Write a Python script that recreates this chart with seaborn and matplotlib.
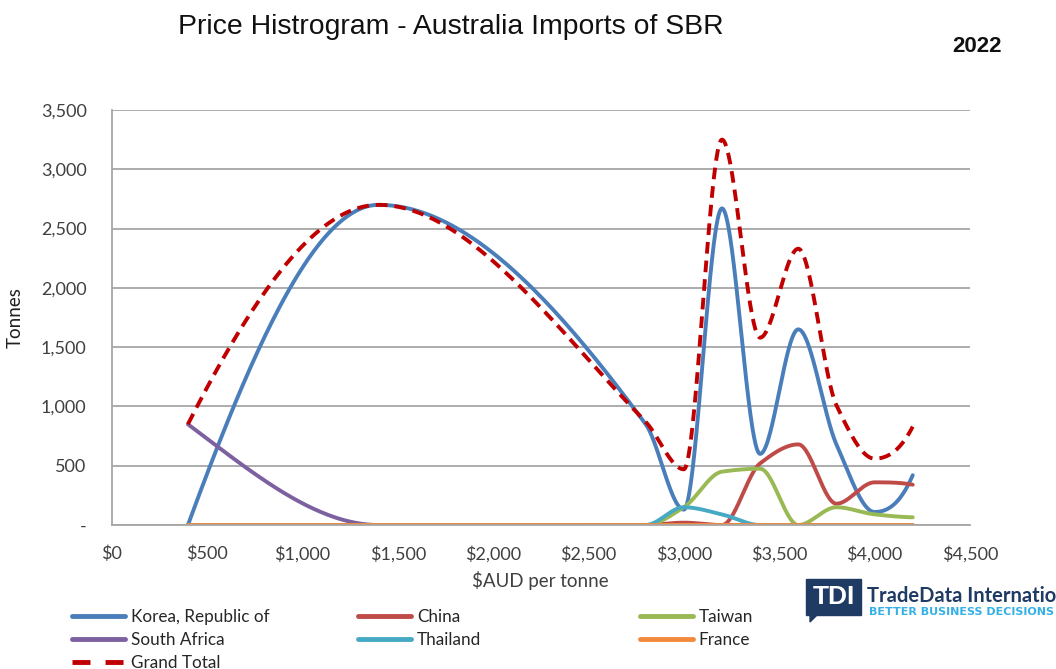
import numpy as np
import pandas as pd
import matplotlib
matplotlib.use('Agg')
import matplotlib.pyplot as plt
from matplotlib.lines import Line2D
from matplotlib.patches import Rectangle, Polygon
from matplotlib.ticker import FuncFormatter, MultipleLocator
import seaborn as sns

# price bins ($AUD per tonne) and tonnes per country
price = [400, 1400, 2800, 3000, 3200, 3400, 3600, 3800, 4000, 4200]
korea = [0, 2700, 850, 130, 2670, 600, 1650, 680, 110, 420]
china = [0, 0, 0, 20, 0, 520, 680, 180, 360, 340]
taiwan = [0, 0, 0, 150, 450, 475, 0, 150, 90, 65]
south_africa = [850, 0, 0, 0, 0, 0, 0, 0, 0, 0]
thailand = [0, 0, 0, 150, 90, 0, 0, 0, 0, 0]
france = [0, 0, 0, 0, 0, 0, 0, 0, 0, 0]
grand_total = [850, 2700, 870, 470, 3250, 1580, 2330, 1010, 560, 830]

series = {
    'Korea, Republic of': korea,
    'China': china,
    'Taiwan': taiwan,
    'South Africa': south_africa,
    'Thailand': thailand,
    'France': france,
    'Grand Total': grand_total,
}
colors = {
    'Korea, Republic of': '#4A7EBB',
    'China': '#BE4B48',
    'Taiwan': '#98B954',
    'South Africa': '#7D60A0',
    'Thailand': '#46AAC5',
    'France': '#F38A3B',
    'Grand Total': '#C00000',
}


def smooth(x, y, n=80):
    # monotone cubic (pchip) so the line looks like Excel's smoothed series
    x = np.asarray(x, float)
    y = np.asarray(y, float)
    h = np.diff(x)
    d = np.diff(y) / h
    m = np.zeros_like(y)
    for k in range(1, len(x) - 1):
        if d[k - 1] * d[k] > 0:
            w1 = 2 * h[k] + h[k - 1]
            w2 = h[k] + 2 * h[k - 1]
            m[k] = (w1 + w2) / (w1 / d[k - 1] + w2 / d[k])

    def end_slope(h0, h1, d0, d1):
        s = ((2 * h0 + h1) * d0 - h0 * d1) / (h0 + h1)
        if np.sign(s) != np.sign(d0):
            return 0.0
        if np.sign(d0) != np.sign(d1) and abs(s) > abs(3 * d0):
            return 3 * d0
        return s

    m[0] = end_slope(h[0], h[1], d[0], d[1])
    m[-1] = end_slope(h[-1], h[-2], d[-1], d[-2])
    xs, ys = [], []
    for k in range(len(h)):
        t = np.linspace(0, 1, n)
        h00 = 2 * t**3 - 3 * t**2 + 1
        h10 = t**3 - 2 * t**2 + t
        h01 = -2 * t**3 + 3 * t**2
        h11 = t**3 - t**2
        xs.append(x[k] + t * h[k])
        ys.append(h00 * y[k] + h10 * h[k] * m[k] + h01 * y[k + 1] + h11 * h[k] * m[k + 1])
    return np.concatenate(xs), np.concatenate(ys)


rows = []
for name, vals in series.items():
    xs, ys = smooth(price, vals)
    rows.append(pd.DataFrame({'price': xs, 'tonnes': ys, 'series': name}))
df = pd.concat(rows, ignore_index=True)

sns.set_theme(style='white')
plt.rcParams['font.family'] = ['Lato', 'DejaVu Sans']

fig = plt.figure(figsize=(10.56, 6.69), dpi=100)
ax = fig.add_axes([0.1057, 0.2152, 0.8128, 0.6204])

dashes = {name: '' for name in series}
dashes['Grand Total'] = (3, 1.8)
sns.lineplot(data=df, x='price', y='tonnes', hue='series', style='series',
             hue_order=list(series), style_order=list(series),
             palette=colors, dashes=dashes, sort=False, estimator=None,
             linewidth=2.8, legend=False, ax=ax)

ax.set_xlim(0, 4500)
ax.set_ylim(0, 3500)
ax.xaxis.set_major_locator(MultipleLocator(500))
ax.yaxis.set_major_locator(MultipleLocator(500))
ax.xaxis.set_major_formatter(FuncFormatter(lambda v, p: f'${v:,.0f}'))
ax.yaxis.set_major_formatter(FuncFormatter(lambda v, p: '-' if v == 0 else f'{v:,.0f}'))
ax.grid(axis='y', color='#A6A6A6', linewidth=1.3)
ax.grid(axis='x', visible=False)
ax.set_axisbelow(True)
for s in ['top', 'right']:
    ax.spines[s].set_visible(False)
for s in ['left', 'bottom']:
    ax.spines[s].set_color('#A6A6A6')
    ax.spines[s].set_linewidth(1.3)
ax.tick_params(axis='both', length=0, labelsize=13, colors='#404040')
ax.tick_params(axis='x', pad=15)
ax.tick_params(axis='y', pad=18)
ax.set_xlabel('$AUD per tonne', fontsize=13.5, color='#404040', labelpad=6)
ax.set_ylabel('Tonnes', fontsize=13.5, color='#202020', labelpad=12)

fig.text(0.427, 0.960, 'Price Histrogram - Australia Imports of SBR', ha='center', va='center',
         fontsize=20.4, family=['Liberation Sans', 'DejaVu Sans'], color='#111111')
fig.text(0.925, 0.931, '2022', ha='center', va='center', fontsize=16, fontweight='bold',
         family=['Liberation Sans', 'DejaVu Sans'], color='#111111')

# legend laid out in three columns like the Excel original
columns = [
    (0.068, ['Korea, Republic of', 'South Africa', 'Grand Total']),
    (0.339, ['China', 'Thailand']),
    (0.606, ['Taiwan', 'France']),
]
for xpos, names in columns:
    handles = [Line2D([], [], color=colors[n], linewidth=3.5,
                      linestyle=(0, (3.7, 3.1)) if n == 'Grand Total' else '-') for n in names]
    fig.legend(handles, names, loc='upper left', bbox_to_anchor=(xpos, 0.0900), frameon=False,
               fontsize=12.3, handlelength=3.1, handletextpad=0.35, labelspacing=0.42,
               borderpad=0, borderaxespad=0, labelcolor='#262626')

# TDI logo
navy = '#1F3A63'
fig.patches.append(Rectangle((806 / 1056, 1 - 615 / 669), 55 / 1056, 36 / 669,
                             transform=fig.transFigure, color=navy))
fig.patches.append(Polygon([(810 / 1056, 1 - 614 / 669), (818 / 1056, 1 - 614 / 669),
                            (810 / 1056, 1 - 622 / 669)], transform=fig.transFigure, color=navy))
fig.text(834 / 1056, 1 - 597 / 669, 'TDI', ha='center', va='center', fontsize=19,
         fontweight='bold', color='white', family=['Liberation Sans Narrow', 'Liberation Sans'])
fig.text(867 / 1056, 1 - 596 / 669, 'TradeData International', ha='left', va='center',
         fontsize=14.5, fontweight='bold', color=navy, family=['Lato', 'DejaVu Sans'])
fig.text(869 / 1056, 1 - 612 / 669, 'BETTER BUSINESS DECISIONS', ha='left', va='center',
         fontsize=8, fontweight='bold', color='#35B0E6', family=['DejaVu Sans'])

fig.savefig('out.png', dpi=100, facecolor='white')
